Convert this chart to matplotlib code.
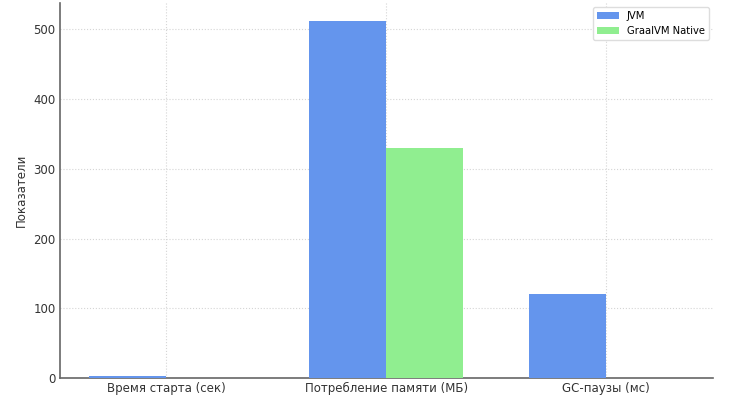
import matplotlib
matplotlib.use("Agg")
import matplotlib.pyplot as plt
import numpy as np

categories = ["Время старта (сек)", "Потребление памяти (МБ)", "GC-паузы (мс)"]
jvm = [2.5, 512, 120]
graal = [0.05, 330, 0]
series_names = ["JVM", "GraalVM Native"]

fig = plt.figure(figsize=(7.29, 4.01), dpi=100)
ax = fig.add_axes([0.082, 0.057, 0.896, 0.936])

x = np.arange(len(categories))
w = 0.35
ax.bar(x - w / 2, jvm, w, color="#6495ED", label=series_names[0], zorder=3)
ax.bar(x + w / 2, graal, w, color="#90EE90", label=series_names[1], zorder=3)

ax.set_xticks(x)
ax.set_xticklabels(categories)
ax.tick_params(axis="both", length=0, labelsize=8.5, labelcolor="#333333", pad=3)
ax.set_ylabel("Показатели", fontsize=8.5, color="#333333")
ax.grid(True, linestyle=":", color="#d5d5d5", linewidth=0.8, zorder=0)
for s in ["top", "right"]:
    ax.spines[s].set_visible(False)
for s in ["left", "bottom"]:
    ax.spines[s].set_color("#666666")
    ax.spines[s].set_linewidth(1.2)

leg = ax.legend(loc="upper right", fontsize=7.2, frameon=True, framealpha=1,
                edgecolor="#dddddd", handlelength=2.2, borderaxespad=0.4)

fig.savefig("out.png", dpi=100)
